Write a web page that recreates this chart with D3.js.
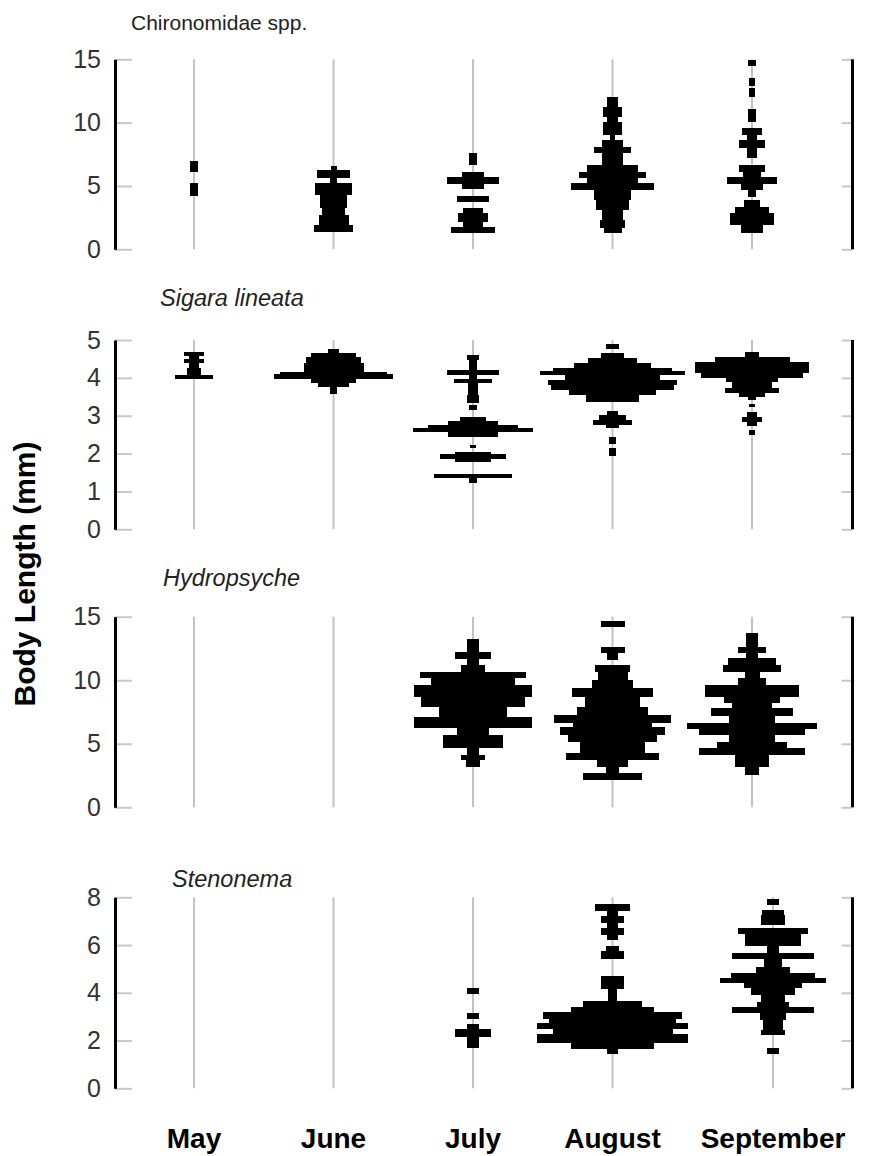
<!DOCTYPE html>
<html>
<head>
<meta charset="utf-8">
<script src="https://cdn.jsdelivr.net/npm/d3@7"></script>
<style>
body { margin: 0; background: #fff; }
svg text { font-family: "Liberation Sans", Arial, sans-serif; }
</style>
</head>
<body>
<div id="chart"></div>
<script>
var months = ["May", "June", "July", "August", "September"];
var species = ["Chironomidae spp.", "Sigara lineata", "Hydropsyche", "Stenonema"];
var yMax = [15, 5, 15, 8];
var yTicks = [[0, 5, 10, 15], [0, 1, 2, 3, 4, 5], [0, 5, 10, 15], [0, 2, 4, 6, 8]];

// each bin: [low (mm), high (mm), half width (count)]
var chiroMay = [[6.1, 7.0, 1.3], [4.2, 5.2, 1.3]];
var chiroJun = [[6.26, 6.57, 1.0], [5.6, 6.26, 5.4], [5.2, 5.6, 1.2], [4.29, 5.2, 6.3], [3.24, 4.29, 4.6],
    [2.71, 3.24, 3.7], [1.92, 2.71, 5.0], [1.39, 1.92, 6.4]];
var chiroJul = [[6.65, 7.57, 1.3], [5.73, 6.12, 3.6], [5.15, 5.73, 8.6], [4.76, 5.15, 3.6], [3.7, 4.2, 5.3],
    [2.84, 3.24, 3.3], [2.18, 2.84, 5.0], [1.78, 2.18, 3.3], [1.26, 1.78, 7.3]];
var chiroAug = [[11.25, 12.04, 1.9], [10.47, 11.25, 3.3], [10.07, 10.47, 1.9], [9.02, 10.07, 3.3], [8.63, 9.02, 0.8],
    [8.1, 8.63, 3.5], [7.58, 8.1, 6.1], [6.65, 7.58, 3.6], [6.12, 6.65, 8.4], [5.6, 6.12, 11.3], [5.2, 5.6, 8.6],
    [4.68, 5.2, 13.8], [3.89, 4.68, 6.3], [3.1, 3.89, 5.6], [2.31, 3.1, 3.6], [1.66, 2.31, 4.2], [1.26, 1.66, 3.0]];
var chiroSep = [[14.47, 14.95, 1.2], [12.9, 13.5, 1.1], [12.05, 12.7, 1.1], [10.07, 11.05, 1.2], [9.02, 9.55, 3.2],
    [8.63, 9.02, 1.7], [7.97, 8.63, 4.3], [7.18, 7.97, 1.7], [6.12, 6.65, 4.2], [5.73, 6.12, 3.1], [5.15, 5.73, 8.3],
    [4.68, 5.15, 3.6], [4.15, 4.68, 1.3], [3.36, 3.89, 2.8], [2.84, 3.36, 5.6], [1.92, 2.84, 7.2], [1.26, 1.92, 3.6]];

var sigaraMay = [[4.58, 4.69, 3.2], [4.49, 4.58, 1.7], [4.38, 4.49, 3.2], [4.25, 4.38, 1.7], [4.07, 4.25, 2.4],
    [3.96, 4.07, 6.4]];
var sigaraJun = [[4.65, 4.75, 1.7], [4.56, 4.65, 7.5], [4.38, 4.56, 9.2], [4.16, 4.38, 10.0], [4.09, 4.16, 17.9],
    [3.96, 4.09, 19.8], [3.86, 3.96, 7.5], [3.77, 3.86, 5.3], [3.57, 3.77, 1.3]];
var sigaraJul = [[4.47, 4.6, 1.9], [4.21, 4.47, 1.4], [4.07, 4.21, 8.6], [3.96, 4.07, 1.4], [3.86, 3.96, 6.3],
    [3.55, 3.86, 1.7], [3.34, 3.55, 2.1], [3.15, 3.28, 1.4], [2.87, 2.97, 4.2], [2.75, 2.87, 8.3], [2.67, 2.75, 15.0],
    [2.56, 2.67, 20.0], [2.45, 2.56, 8.3], [2.14, 2.23, 1.1], [2.0, 2.05, 6.1], [1.87, 2.0, 11.1], [1.79, 1.87, 6.1],
    [1.35, 1.46, 13.1], [1.23, 1.35, 1.4]];
var sigaraAug = [[4.75, 4.89, 2.2], [4.52, 4.65, 3.7], [4.38, 4.52, 8.3], [4.25, 4.38, 12.8], [4.19, 4.25, 19.7],
    [4.07, 4.19, 24.1], [3.94, 4.07, 15.8], [3.81, 3.94, 21.6], [3.68, 3.81, 20.6], [3.55, 3.68, 14.4],
    [3.37, 3.55, 8.9], [3.02, 3.13, 1.7], [2.89, 3.02, 4.4], [2.75, 2.89, 6.4], [2.67, 2.75, 2.2],
    [2.25, 2.45, 1.2], [1.94, 2.14, 1.2]];
var sigaraSep = [[4.56, 4.69, 2.2], [4.43, 4.56, 12.5], [4.12, 4.43, 18.9], [3.99, 4.12, 16.9], [3.9, 3.99, 8.6],
    [3.72, 3.9, 6.7], [3.61, 3.72, 8.9], [3.49, 3.61, 4.2], [3.41, 3.49, 1.4], [3.22, 3.31, 1.1], [2.97, 3.11, 1.7],
    [2.84, 2.97, 3.4], [2.73, 2.84, 1.7], [2.49, 2.62, 1.1]];

var hydroMay = [];
var hydroJun = [];
var hydroJul = [[12.24, 13.22, 1.9], [11.64, 12.24, 5.9], [11.2, 11.64, 1.9], [10.67, 11.2, 3.9], [10.15, 10.67, 17.8],
    [9.62, 10.15, 13.9], [8.7, 9.62, 19.7], [7.92, 8.7, 17.2], [7.13, 7.92, 11.2], [6.22, 7.13, 19.7],
    [5.69, 6.22, 5.4], [4.64, 5.69, 9.9], [4.11, 4.64, 1.9], [3.72, 4.11, 4.0], [3.19, 3.72, 2.4]];
var hydroAug = [[14.16, 14.68, 4.0], [12.12, 12.64, 4.0], [11.59, 12.12, 1.9], [10.67, 11.2, 5.8], [10.02, 10.67, 5.0],
    [9.36, 10.02, 6.9], [8.7, 9.36, 13.6], [7.92, 8.7, 9.3], [7.26, 7.92, 11.8], [6.66, 7.26, 19.6],
    [6.34, 6.66, 13.1], [5.69, 6.34, 17.5], [5.16, 5.69, 14.7], [4.25, 5.16, 10.8], [3.72, 4.25, 15.6],
    [3.19, 3.72, 5.3], [2.67, 3.19, 2.2], [2.15, 2.67, 9.7]];
var hydroSep = [[12.64, 13.69, 1.9], [12.12, 12.64, 4.7], [11.72, 12.12, 1.9], [11.2, 11.72, 8.1], [10.67, 11.2, 9.7],
    [10.15, 10.67, 2.5], [9.62, 10.15, 4.7], [8.7, 9.62, 15.7], [8.18, 8.7, 9.4], [7.79, 8.18, 6.7],
    [7.18, 7.79, 13.6], [6.66, 7.18, 7.8], [6.14, 6.66, 21.7], [5.69, 6.14, 17.8], [5.16, 5.69, 7.8],
    [4.64, 5.16, 11.7], [4.11, 4.64, 17.8], [3.59, 4.11, 5.8], [3.19, 3.59, 5.8], [2.54, 3.19, 2.2]];

var stenoMay = [];
var stenoJun = [];
var stenoJul = [[3.93, 4.21, 1.9], [2.92, 3.17, 1.9], [2.47, 2.68, 1.9], [2.16, 2.47, 5.9], [1.7, 2.16, 1.9]];
var stenoAug = [[7.42, 7.74, 5.8], [7.21, 7.42, 1.8], [6.93, 7.21, 3.9], [6.72, 6.93, 1.8], [6.44, 6.72, 3.9],
    [6.23, 6.44, 1.9], [5.75, 5.96, 2.3], [5.43, 5.75, 3.9], [4.16, 4.71, 3.9], [3.67, 4.16, 1.4],
    [3.39, 3.67, 9.7], [3.18, 3.39, 13.9], [2.9, 3.18, 23.3], [2.73, 2.9, 21.1], [2.48, 2.73, 25.3],
    [2.27, 2.48, 20.0], [1.91, 2.27, 25.3], [1.66, 1.91, 13.8], [1.42, 1.66, 1.9]];
var stenoSep = [[7.68, 7.92, 1.9], [7.26, 7.47, 3.8], [6.84, 7.26, 4.1], [6.46, 6.7, 11.8], [5.96, 6.46, 9.4],
    [5.65, 5.96, 1.9], [5.4, 5.65, 13.7], [5.09, 5.4, 3.1], [4.82, 5.09, 5.8], [4.61, 4.82, 13.9],
    [4.4, 4.61, 17.8], [4.19, 4.4, 9.7], [3.91, 4.19, 7.2], [3.63, 3.91, 3.9], [3.42, 3.63, 5.3],
    [3.17, 3.42, 13.7], [2.86, 3.17, 4.3], [2.44, 2.86, 3.3], [2.23, 2.44, 4.1], [1.44, 1.68, 1.9]];

var groups = [
    [chiroMay, chiroJun, chiroJul, chiroAug, chiroSep],
    [sigaraMay, sigaraJun, sigaraJul, sigaraAug, sigaraSep],
    [hydroMay, hydroJun, hydroJul, hydroAug, hydroSep],
    [stenoMay, stenoJun, stenoJul, stenoAug, stenoSep]
];

// layout
var svgWidth = 873, svgHeight = 1156;
var axisLeftX = 115, axisRightX = 852.5;
var panelTop = [59.3, 340, 616.7, 897.3];
var panelHeight = [190, 189.3, 190.6, 191];
var titleX = [131, 160, 163, 172];
var titleY = [30, 306, 586, 887];
var sepShift = [0, 0, 0, 21]; // last panel's September column sits further right

var svg = d3.select("#chart")
    .append("svg")
    .attr("width", svgWidth)
    .attr("height", svgHeight);

var xScale = d3.scalePoint()
    .domain(months)
    .range([194, 752]);

var wScale = d3.scaleLinear()
    .domain([0, 1])
    .range([0, 3]);

function monthX(m, p) {
    return xScale(m) + (m === "September" ? sepShift[p] : 0);
}

species.forEach(function(name, p) {
    var yScale = d3.scaleLinear()
        .domain([0, yMax[p]])
        .range([panelTop[p] + panelHeight[p], panelTop[p]]);

    var g = svg.append("g");

    // month guide lines
    g.selectAll(".guide")
        .data(months)
        .enter()
        .append("line")
        .attr("x1", d => monthX(d, p))
        .attr("x2", d => monthX(d, p))
        .attr("y1", yScale(yMax[p]))
        .attr("y2", yScale(0))
        .attr("stroke", "#c2c2c2")
        .attr("stroke-width", 2);

    // gray tick marks inside both axes
    var tickIn = g.append("g")
        .attr("transform", `translate(${axisLeftX}, 0)`)
        .call(d3.axisRight(yScale).tickValues(yTicks[p]).tickSize(17).tickFormat(""));
    var tickOut = g.append("g")
        .attr("transform", `translate(${axisRightX}, 0)`)
        .call(d3.axisLeft(yScale).tickValues(yTicks[p]).tickSize(11).tickFormat(""));
    [tickIn, tickOut].forEach(function(a) {
        a.select(".domain").remove();
        a.selectAll("line").attr("stroke", "#c8c8c8").attr("stroke-width", 2);
    });

    // left axis with labels
    var leftAxis = g.append("g")
        .attr("transform", `translate(${axisLeftX}, 0)`)
        .call(d3.axisLeft(yScale).tickValues(yTicks[p]).tickFormat(d3.format("d"))
            .tickSize(0).tickSizeOuter(0).tickPadding(14));
    leftAxis.select(".domain").attr("stroke", "#000").attr("stroke-width", 3);
    leftAxis.selectAll("text")
        .attr("font-size", 25)
        .attr("fill", "#333")
        .style("font-family", "Liberation Sans, Arial, sans-serif");

    // right frame line
    g.append("line")
        .attr("x1", axisRightX)
        .attr("x2", axisRightX)
        .attr("y1", yScale(yMax[p]))
        .attr("y2", yScale(0))
        .attr("stroke", "#000")
        .attr("stroke-width", 3);

    // histogram bars
    months.forEach(function(m, i) {
        g.selectAll(null)
            .data(groups[p][i])
            .enter()
            .append("rect")
            .attr("x", d => monthX(m, p) - wScale(d[2]))
            .attr("width", d => 2 * wScale(d[2]))
            .attr("y", d => yScale(d[1]))
            .attr("height", d => yScale(d[0]) - yScale(d[1]))
            .attr("fill", "#000")
            .attr("shape-rendering", "crispEdges");
    });

    g.append("text")
        .attr("x", titleX[p])
        .attr("y", titleY[p])
        .attr("font-size", p === 0 ? 21 : 23.5)
        .attr("font-style", p === 0 ? "normal" : "italic")
        .attr("fill", "#222")
        .text(name);
});

// month labels
svg.selectAll(".month")
    .data(months)
    .enter()
    .append("text")
    .attr("x", d => monthX(d, 3))
    .attr("y", 1148)
    .attr("text-anchor", "middle")
    .attr("font-size", 28)
    .attr("font-weight", "bold")
    .attr("fill", "#000")
    .text(d => d);

svg.append("text")
    .attr("transform", "translate(35, 574) rotate(-90)")
    .attr("text-anchor", "middle")
    .attr("font-size", 30)
    .attr("font-weight", "bold")
    .attr("fill", "#000")
    .text("Body Length (mm)");
</script>
</body>
</html>
